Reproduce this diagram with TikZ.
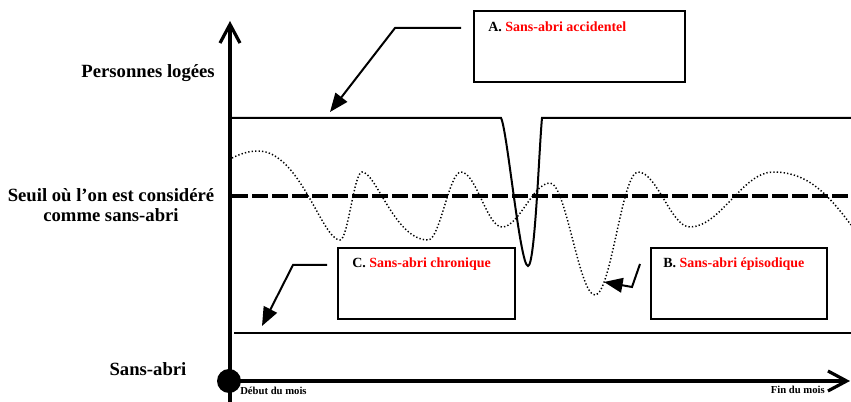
\documentclass[tikz,border=0pt]{standalone}
\usepackage{fontspec}
\setmainfont{Liberation Serif}
\usetikzlibrary{arrows.meta}

\begin{document}
\begin{tikzpicture}[
    x=0.75pt, y=-0.75pt,
    axis/.style={line width=2.4pt, -{Straight Barb[length=14pt,width=15pt]}},
    level/.style={line width=1.5pt},
    threshold/.style={line width=3pt, dash pattern=on 12pt off 3pt},
    path curve/.style={line width=1.1pt, dash pattern=on 1pt off 1.6pt},
    casebox/.style={rectangle, draw, line width=1.5pt, minimum height=53pt, inner sep=0pt},
    pointer/.style={line width=1.5pt, -{Triangle[length=14pt,width=11pt]}},
    sidelabel/.style={font=\fontsize{14}{15}\selectfont\bfseries, align=center, inner sep=0pt},
    boxlabel/.style={font=\fontsize{10.5}{12}\selectfont\bfseries, anchor=west, inner sep=0pt},
    smalllabel/.style={font=\fontsize{8}{9}\selectfont\bfseries, inner sep=0pt}
]
\useasboundingbox (0,0) rectangle (851,402);

% Axes
\coordinate (origin) at (229,381);
\coordinate (ytop) at (230,21);
\coordinate (ybottom) at (230,402);
\coordinate (xend) at (850,381);
\draw[axis] (ybottom) -- (ytop);
\draw[axis] (origin) -- (xend);
\fill (origin) circle (9pt);

% Levels
\draw[level] (230,118) -- (501,118) .. controls (507,128) and (520,266) .. (528,266)
    .. controls (535,266) and (539,150) .. (542,118) -- (851,118);
\draw[level] (234,333) -- (851,333);
\draw[threshold] (232,196) -- (851,196);

% Episodic path
\draw[path curve] (232,158) .. controls (242,153) and (250,151) .. (258,151)
    .. controls (300,151) and (322,240) .. (340,240)
    .. controls (348,240) and (354,172) .. (362,172)
    .. controls (376,172) and (395,240) .. (428,240)
    .. controls (440,240) and (449,172) .. (461,172)
    .. controls (476,172) and (487,227) .. (502,227)
    .. controls (519,227) and (533,183) .. (550,183)
    .. controls (566,183) and (579,295) .. (595,295)
    .. controls (611,295) and (622,172) .. (638,172)
    .. controls (657,172) and (671,227) .. (690,227)
    .. controls (720,227) and (743,172) .. (773,172)
    .. controls (805,172) and (825,190) .. (851,225);

% Case boxes
\node[casebox, minimum width=158pt] (boxA) at (579.5,46.5) {};
\node[casebox, minimum width=133pt] (boxC) at (426.5,283.5) {};
\node[casebox, minimum width=132pt] (boxB) at (739,283.5) {};
\node[boxlabel] (labelA) at (488,27) {A. \textcolor{red}{Sans-abri accidentel}};
\node[boxlabel] (labelC) at (352,264) {C. \textcolor{red}{Sans-abri chronique}};
\node[boxlabel] (labelB) at (663,264) {B. \textcolor{red}{Sans-abri épisodique}};

% Pointers
\coordinate (aStart) at (461,28);
\coordinate (aBend) at (395,28);
\coordinate (aTip) at (330,112);
\coordinate (cStart) at (327,265);
\coordinate (cBend) at (293,265);
\coordinate (cTip) at (262,326);
\coordinate (bStart) at (640,264);
\coordinate (bBend) at (632,287);
\coordinate (bTip) at (604,282);
\draw[pointer] (aStart) -- (aBend) -- (aTip);
\draw[pointer] (cStart) -- (cBend) -- (cTip);
\draw[pointer] (bStart) -- (bBend) -- (bTip);

% Labels
\node[sidelabel, anchor=east] (housed) at (215,73) {Personnes logées};
\node[sidelabel] (seuil) at (111,205) {Seuil où l’on est considéré\\comme sans-abri};
\node[sidelabel] (homeless) at (148,369) {Sans-abri};
\node[smalllabel, anchor=west] (start) at (240,391) {Début du mois};
\node[smalllabel, anchor=east] (end) at (825,390) {Fin du mois};

\end{tikzpicture}
\end{document}
